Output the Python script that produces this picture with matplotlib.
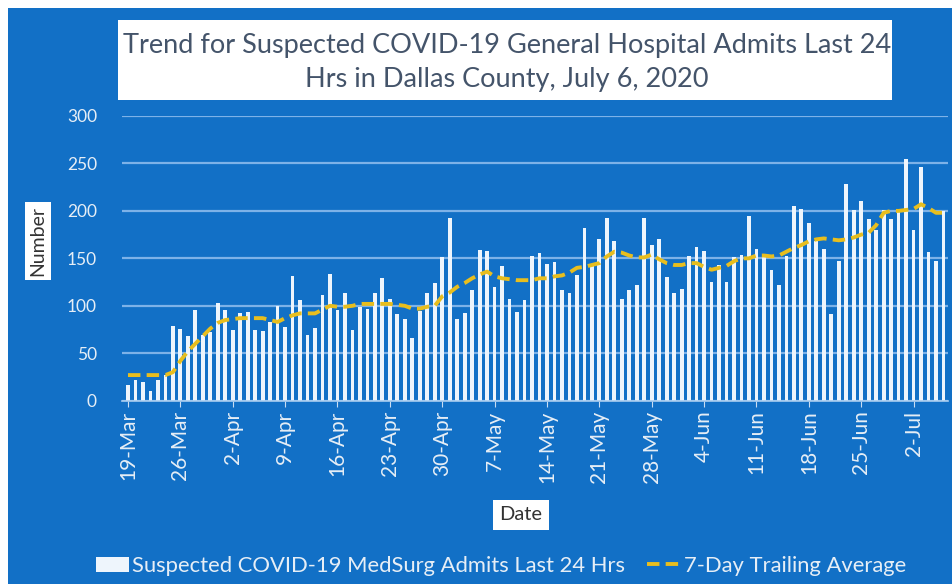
import matplotlib.pyplot as plt
import matplotlib.patches as mpatches
import numpy as np

# daily suspected COVID-19 MedSurg admits, 19-Mar .. 6-Jul
admits = [17, 22, 20, 10, 22, 27, 79, 76, 68, 96, 69, 72, 103, 96, 75,
          92, 93, 74, 73, 83, 100, 78, 131, 106, 69, 77, 111, 133, 96, 113, 74,
          99, 97, 113, 129, 107, 91, 86, 66, 95, 113, 124, 151, 192, 86, 92, 117,
          159, 158, 120, 142, 107, 93, 106, 153, 156, 144, 146, 117, 114, 132, 182, 143,
          170, 192, 168, 107, 117, 122, 192, 164, 170, 130, 114, 118, 153, 162, 158,
          125, 143, 125, 151, 154, 195, 160, 153, 138, 122, 153, 205, 202, 187, 168, 160,
          91, 147, 228, 201, 210, 191, 180, 201, 191, 200, 255, 180, 246, 157, 147, 200]

avg7 = [27, 27, 27, 27, 27, 27, 30, 42, 52, 60, 68, 76, 82, 85, 86,
        87, 87, 87, 87, 85, 83, 87, 90, 92, 92, 92, 96, 100, 99, 99, 100,
        102, 102, 102, 102, 102, 101, 100, 97, 97, 99, 100, 110, 114, 120, 124, 129,
        133, 136, 131, 129, 128, 127, 127, 127, 129, 129, 131, 132, 135, 140, 141, 143,
        145, 152, 157, 156, 153, 151, 151, 154, 149, 145, 143, 143, 145, 145, 141,
        138, 140, 142, 147, 150, 150, 153, 153, 152, 153, 157, 161, 164, 168, 170, 171,
        170, 169, 170, 172, 175, 177, 185, 198, 200, 200, 201, 202, 207, 203, 198, 198]

tick_labels = ['19-Mar', '26-Mar', '2-Apr', '9-Apr', '16-Apr', '23-Apr', '30-Apr',
               '7-May', '14-May', '21-May', '28-May', '4-Jun', '11-Jun', '18-Jun',
               '25-Jun', '2-Jul']

plt.rcParams['font.family'] = ['Lato', 'DejaVu Sans']

blue = '#1270C6'
fig = plt.figure(figsize=(9.52, 5.84), dpi=100, facecolor='white')
fig.patches.append(mpatches.Rectangle((8/952, 0), 1, 1 - 8/584, transform=fig.transFigure,
                                      facecolor=blue, edgecolor='none', zorder=-10))

ax = fig.add_axes([122/952, (584-400.7)/584, (948-122)/952, (400.7-116)/584])
ax.set_facecolor(blue)

days = np.arange(len(admits))
bars = ax.bar(days, admits, width=0.5, color='#EEF5FC', zorder=2,
              label='Suspected COVID-19 MedSurg Admits Last 24 Hrs')
line, = ax.plot(days, avg7, color='#E8BE1E', lw=2.8, dashes=(3.2, 1.6), zorder=3,
                label='7-Day Trailing Average')

ax.set_ylim(0, 300)
ax.set_xlim(-0.8, 109.6)
ax.set_yticks(np.arange(0, 301, 50))
ax.grid(axis='y', color='#7DB2E8', lw=1.6, zorder=0)
ax.set_axisbelow(True)
for s in ['top', 'right', 'left']:
    ax.spines[s].set_visible(False)
ax.spines['bottom'].set_color('#A9CDF0')
ax.spines['bottom'].set_linewidth(1.2)

ax.set_xticks(days[::7])
ax.set_xticklabels(tick_labels, rotation=90, fontsize=15, color='#E6EEF6')
ax.tick_params(axis='x', colors='#C9DDF2', length=4, labelcolor='#E6EEF6', pad=3)
ax.tick_params(axis='y', length=0, labelsize=12.5, labelcolor='#E6EEF6', pad=18)

# title box
fig.patches.append(mpatches.Rectangle((118/952, (584-100)/584), 774/952, 80/584,
                                      transform=fig.transFigure, facecolor='white',
                                      edgecolor='none'))
fig.text(507/952, (584-46)/584, 'Trend for Suspected COVID-19 General Hospital Admits Last 24',
         ha='center', va='center', fontsize=19.5, color='#44546A')
fig.text(507/952, (584-80)/584, 'Hrs in Dallas County, July 6, 2020',
         ha='center', va='center', fontsize=19.5, color='#44546A')

fig.text(38/952, (584-241)/584, 'Number', rotation=90, ha='center', va='center',
         fontsize=14, color='#333333',
         bbox=dict(facecolor='white', edgecolor='none', pad=3))
fig.text(521/952, (584-515)/584, 'Date', ha='center', va='center',
         fontsize=14.5, color='#333333',
         bbox=dict(facecolor='white', edgecolor='none', pad=5))

fig.legend([bars, line], [bars.get_label(), line.get_label()],
           loc='center', bbox_to_anchor=(501/952, 18/584), ncol=2, frameon=False,
           fontsize=15.8, labelcolor='#E6EEF6', handlelength=1.5, handletextpad=0.15,
           columnspacing=1.0)

fig.savefig('out.png', dpi=100, facecolor=fig.get_facecolor())
